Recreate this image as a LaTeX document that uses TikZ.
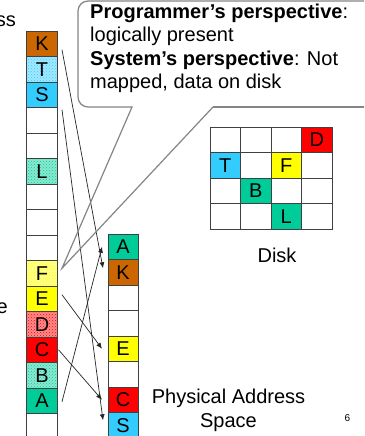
\documentclass[tikz,border=0pt]{standalone}
\usepackage{fontspec}
\setmainfont{Liberation Sans}
\usetikzlibrary{positioning,arrows.meta,patterns,calc}
\definecolor{kbrown}{HTML}{CC6600}
\definecolor{scyan}{HTML}{33CCFF}
\definecolor{ateal}{HTML}{00CC99}
\definecolor{fyellow}{HTML}{FFFF00}
\definecolor{cred}{HTML}{FF0000}
\definecolor{edge}{HTML}{404040}
\definecolor{bubblegrey}{HTML}{858585}
\tikzset{
  cellbox/.style={rectangle, draw=edge, line width=0.8pt, minimum height=25.5pt, inner sep=0pt, outer sep=0pt, font=\fontsize{20pt}{24pt}\selectfont},
  vcell/.style={cellbox, minimum width=31pt},
  pcell/.style={cellbox, minimum width=30pt},
  dcell/.style={cellbox, minimum width=30.5pt},
  brownc/.style={fill=kbrown},
  cyanc/.style={fill=scyan},
  tealc/.style={fill=ateal},
  yellowc/.style={fill=fyellow},
  redc/.style={fill=cred},
  cyandots/.style={preaction={fill=scyan!45}, pattern=crosshatch dots, pattern color=scyan},
  tealdots/.style={preaction={fill=ateal!45}, pattern=crosshatch dots, pattern color=ateal},
  yellowdots/.style={preaction={fill=fyellow!45}, pattern=crosshatch dots, pattern color=fyellow},
  reddots/.style={preaction={fill=cred!45}, pattern=crosshatch dots, pattern color=cred},
  map/.style={-{Latex[length=6pt,width=5pt]}, line width=0.7pt, draw=black!85},
  bubble/.style={draw=bubblegrey, line width=1.2pt},
  lbl/.style={font=\fontsize{20pt}{23.5pt}\selectfont, inner sep=0pt},
}

\begin{document}
\begin{tikzpicture}[x=1pt,y=-1pt]
  \fill[white] (0,0) rectangle (364,436);
  \useasboundingbox (0,0) rectangle (364,436);
  \clip (0,0) rectangle (364,436);

  % virtual address space
  \node[lbl, anchor=base east] (vtop) at (16,27) {ss};
  \node[lbl, anchor=base east] (vbot) at (8,313) {e};
  \node[vcell, brownc] (vK) at (42,43.75) {K};
  \node[vcell, cyandots] (vT) [below=0pt of vK] {T};
  \node[vcell, cyanc] (vS) [below=0pt of vT] {S};
  \node[vcell] (v4) [below=0pt of vS] {};
  \node[vcell] (v5) [below=0pt of v4] {};
  \node[vcell, tealdots] (vL) [below=0pt of v5] {L};
  \node[vcell] (v7) [below=0pt of vL] {};
  \node[vcell] (v8) [below=0pt of v7] {};
  \node[vcell] (v9) [below=0pt of v8] {};
  \node[vcell, yellowdots] (vF) [below=0pt of v9] {F};
  \node[vcell, yellowc] (vE) [below=0pt of vF] {E};
  \node[vcell, reddots] (vD) [below=0pt of vE] {D};
  \node[vcell, redc] (vC) [below=0pt of vD] {C};
  \node[vcell, tealdots] (vB) [below=0pt of vC] {B};
  \node[vcell, tealc] (vA) [below=0pt of vB] {A};
  \node[vcell] (v16) [below=0pt of vA] {};

  % physical address space
  \node[pcell, tealc] (pA) at (123,246.75) {A};
  \node[pcell, brownc] (pK) [below=0pt of pA] {K};
  \node[pcell] (p3) [below=0pt of pK] {};
  \node[pcell] (p4) [below=0pt of p3] {};
  \node[pcell, yellowc] (pE) [below=0pt of p4] {E};
  \node[pcell] (p6) [below=0pt of pE] {};
  \node[pcell, redc] (pC) [below=0pt of p6] {C};
  \node[pcell, cyanc] (pS) [below=0pt of pC] {S};
  \node[lbl, align=center, anchor=base] (phys) at (228.5,427) {Physical Address\\Space};

  % disk
  \foreach \r in {0,...,3}
    \foreach \c in {0,...,3}
      \node[dcell] (d\r\c) at ({225.25+30.5*\c},{139.75+25.5*\r}) {};
  \node[dcell, redc] (dD) at (d03) {D};
  \node[dcell, cyanc] (dT) at (d10) {T};
  \node[dcell, yellowc] (dF) at (d12) {F};
  \node[dcell, tealc] (dB) at (d21) {B};
  \node[dcell, tealc] (dL) at (d32) {L};
  \node[lbl, anchor=base] (disk) at (277,262) {Disk};

  % mappings
  \draw[map] ([xshift=4.5pt,yshift=-6pt]vK.east) -- ([xshift=-5pt,yshift=4pt]pK.west);
  \draw[map] ([xshift=4.5pt,yshift=-15pt]vS.east) -- ([xshift=-5pt,yshift=5pt]pS.west);
  \draw[map] ([xshift=4.5pt,yshift=4pt]vE.east) -- ([xshift=-6pt]pE.west);
  \draw[map] ([xshift=1pt]vC.east) -- ([xshift=-6pt]pC.west);
  \draw[map] ([xshift=4.5pt,yshift=-1pt]vA.east) -- ([xshift=-6pt]pA.west);

  % callout
  \coordinate (tip) at ([xshift=4.5pt,yshift=5pt]vF.east);
  \draw[bubble] (213,107) -- (tip) -- (132,107) [rounded corners=10pt] -| (78,1) -- (375,1);
  \draw[bubble] (213,107) -- (375,107);
  \node[lbl, align=left, anchor=base west] (note) at (90,88.5)
    {\textbf{Programmer’s perspective}:\\logically present\\\textbf{System’s perspective}: Not\\mapped, data on disk};

  \node[font=\fontsize{10pt}{12pt}\selectfont, inner sep=0pt] (pg) at (347.5,418.5) {6};
\end{tikzpicture}
\end{document}
